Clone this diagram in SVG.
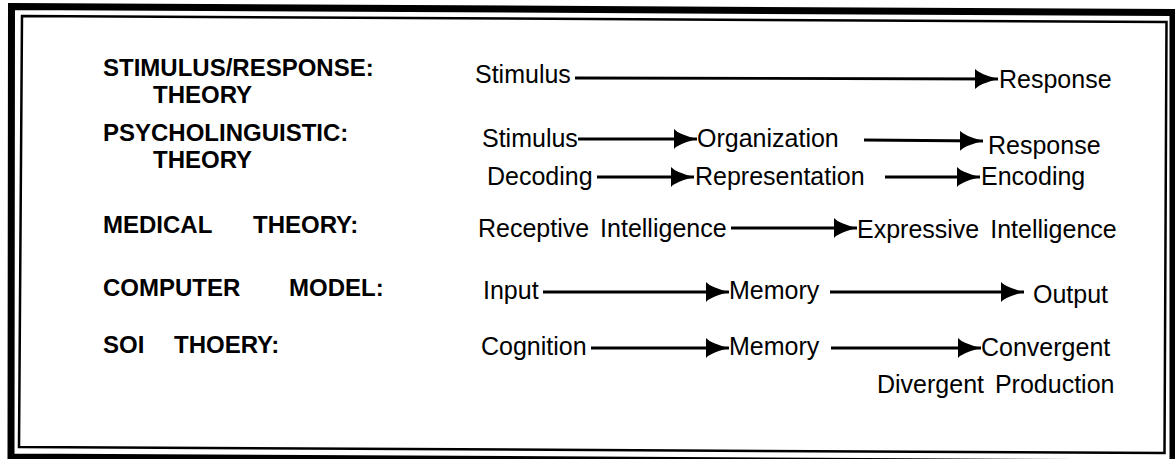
<svg xmlns="http://www.w3.org/2000/svg" width="1175" height="459" viewBox="0 0 1175 459">
<style>
.lbl{font-family:"Liberation Sans",Arial,sans-serif;font-weight:bold;font-size:24px;fill:#000}
.t{font-family:"Liberation Sans",Arial,sans-serif;font-size:25px;fill:#000}
.c{stroke:#000;stroke-width:2.8;fill:none;marker-end:url(#ah)}
.frame-o{fill:none;stroke:#000;stroke-width:7}
.frame-i{fill:none;stroke:#000;stroke-width:2.5}
</style>
<defs>
<marker id="ah" markerUnits="userSpaceOnUse" markerWidth="26" markerHeight="22" refX="23" refY="10" orient="auto" viewBox="0 0 26 22">
<path d="M0,0 Q4,5 23,10 Q4,15 0,20 Z" fill="#000"/>
</marker>
</defs>
<rect width="1175" height="459" fill="#fff"/>
<g id="frame">
<polygon class="frame-o" points="11.5,6.5 1173,12.5 1173,463 11,457"/>
<polygon class="frame-i" points="22,16 1166.5,22 1164.5,453 19,447"/>
</g>
<g id="labels">
<g id="lbl-sr"><text class="lbl" x="103" y="76">STIMULUS/RESPONSE:</text><text class="lbl" x="153" y="103">THEORY</text></g>
<g id="lbl-psy"><text class="lbl" x="103" y="141">PSYCHOLINGUISTIC:</text><text class="lbl" x="153" y="168">THEORY</text></g>
<g id="lbl-med"><text class="lbl" x="103" y="233">MEDICAL</text><text class="lbl" x="253" y="233">THEORY:</text></g>
<g id="lbl-comp"><text class="lbl" x="103" y="296">COMPUTER</text><text class="lbl" x="289" y="296">MODEL:</text></g>
<g id="lbl-soi"><text class="lbl" x="103" y="353">SOI</text><text class="lbl" x="174" y="353">THOERY:</text></g>
</g>
<g id="connectors">
<line class="c" x1="575" y1="78" x2="998" y2="79"/>
<line class="c" x1="578" y1="139" x2="697" y2="139"/>
<line class="c" x1="864" y1="140" x2="983" y2="141"/>
<line class="c" x1="597" y1="177" x2="694" y2="177"/>
<line class="c" x1="885" y1="177" x2="980" y2="177"/>
<line class="c" x1="731" y1="228" x2="857" y2="228"/>
<line class="c" x1="543" y1="292" x2="729" y2="292"/>
<line class="c" x1="830" y1="292" x2="1024" y2="292"/>
<line class="c" x1="591" y1="348" x2="729" y2="348"/>
<line class="c" x1="831" y1="348" x2="981" y2="348"/>
</g>
<g id="n-stimulus1"><text class="t" x="475" y="83">Stimulus</text></g>
<g id="n-response1"><text class="t" x="999" y="88">Response</text></g>
<g id="n-stimulus2"><text class="t" x="482" y="147">Stimulus</text></g>
<g id="n-organization"><text class="t" x="697" y="147">Organization</text></g>
<g id="n-response2"><text class="t" x="988" y="154">Response</text></g>
<g id="n-decoding"><text class="t" x="487" y="185">Decoding</text></g>
<g id="n-representation"><text class="t" x="695" y="185">Representation</text></g>
<g id="n-encoding"><text class="t" x="981" y="185">Encoding</text></g>
<g id="n-receptive"><text class="t" x="478" y="237" word-spacing="4">Receptive Intelligence</text></g>
<g id="n-expressive"><text class="t" x="857" y="238" word-spacing="4">Expressive Intelligence</text></g>
<g id="n-input"><text class="t" x="483" y="299">Input</text></g>
<g id="n-memory1"><text class="t" x="729" y="299">Memory</text></g>
<g id="n-output"><text class="t" x="1033" y="303">Output</text></g>
<g id="n-cognition"><text class="t" x="481" y="355">Cognition</text></g>
<g id="n-memory2"><text class="t" x="729" y="355">Memory</text></g>
<g id="n-convergent"><text class="t" x="981" y="356">Convergent</text></g>
<g id="n-divergent"><text class="t" x="877" y="393" word-spacing="4">Divergent Production</text></g>
</svg>
